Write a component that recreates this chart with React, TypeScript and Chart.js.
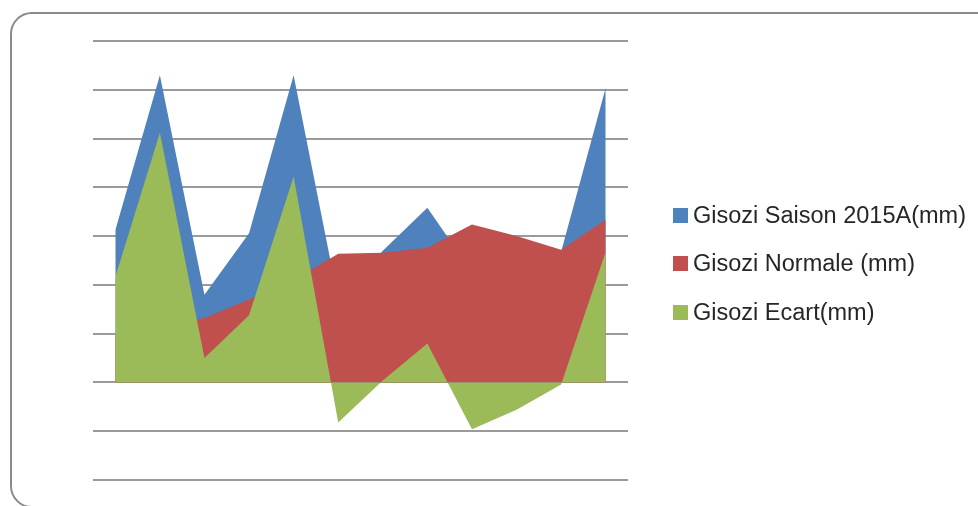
import React, { useEffect, useRef } from "react";
import { Chart, registerables } from "chart.js";

Chart.register(...registerables);

const categories = [
  "Sep D1", "Sep D2", "Sep D3",
  "Oct D1", "Oct D2", "Oct D3",
  "Nov D1", "Nov D2", "Nov D3",
  "Dec D1", "Dec D2", "Dec D3",
];

const saison2015A = [156, 315, 90, 153, 315, 85, 135, 179, 113, 122, 134, 302];
const normale = [48, 59, 66, 85, 105, 132, 133, 138, 162, 150, 136, 167];
const ecart = [108, 256, 25, 69, 211, -41, 2, 40, -48, -28, -2, 134];

const seriesNames = [
  "Gisozi Saison 2015A(mm)",
  "Gisozi Normale (mm)",
  "Gisozi Ecart(mm)",
];
const seriesColors = ["#4F81BD", "#C0504D", "#9BBB59"];

const yMin = -100;
const yMax = 350;
const yStep = 50;

export default function App() {
  const canvasRef = useRef<HTMLCanvasElement | null>(null);

  useEffect(() => {
    const canvas = canvasRef.current;
    if (!canvas) return;
    const values = [saison2015A, normale, ecart];
    const chart = new Chart(canvas, {
      type: "line",
      data: {
        labels: categories,
        datasets: values.map((data, i) => ({
          label: seriesNames[i],
          data,
          backgroundColor: seriesColors[i],
          borderColor: seriesColors[i],
          borderWidth: 0,
          pointRadius: 0,
          pointHoverRadius: 0,
          tension: 0,
          fill: "origin",
          order: 3 - i,
        })),
      },
      options: {
        responsive: false,
        animation: false,
        devicePixelRatio: 1,
        layout: { padding: { left: 93, right: 350, top: 41, bottom: 26 } },
        plugins: {
          legend: { display: false },
          tooltip: { enabled: false },
        },
        scales: {
          x: {
            type: "category",
            offset: true,
            display: false,
          },
          y: {
            min: yMin,
            max: yMax,
            ticks: { stepSize: yStep, display: false },
            grid: { color: "#9a9a9a", lineWidth: 2, drawTicks: false },
            border: { display: false },
          },
        },
      },
    });
    return () => chart.destroy();
  }, []);

  const rowCenters = [215, 263.5, 312];

  return (
    <div
      style={{
        position: "fixed",
        left: 0,
        top: 0,
        width: 978,
        height: 506,
        background: "#ffffff",
        overflow: "hidden",
      }}
    >
      <div
        style={{
          position: "absolute",
          left: 10,
          top: 12,
          width: 1000,
          height: 492,
          border: "2px solid #8a8a8a",
          borderRadius: 22,
          boxSizing: "content-box",
        }}
      />
      <canvas
        ref={canvasRef}
        width={978}
        height={506}
        style={{ position: "absolute", left: 0, top: 0, width: 978, height: 506 }}
      />
      {seriesNames.map((name, i) => (
        <div
          key={name}
          style={{
            position: "absolute",
            left: 673,
            top: rowCenters[i] - 15,
            height: 30,
            display: "flex",
            alignItems: "center",
            fontFamily: '"Liberation Sans", Arial, sans-serif',
            fontSize: 23.5,
            color: "#262626",
            whiteSpace: "nowrap",
          }}
        >
          <span
            style={{
              display: "inline-block",
              width: 15,
              height: 15,
              background: seriesColors[i],
              marginRight: 5,
            }}
          />
          <span>{name}</span>
        </div>
      ))}
    </div>
  );
}
